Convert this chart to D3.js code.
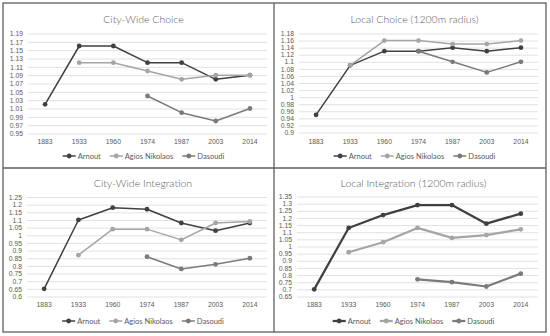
<!DOCTYPE html>
<html>
<head>
<meta charset="utf-8">
<script src="https://cdn.jsdelivr.net/npm/d3@7"></script>
<style>
  body { margin: 0; background: #fff; }
  svg { display: block; font-family: Lato, "Liberation Sans", sans-serif; }
</style>
</head>
<body>
<svg id="chart" width="550" height="336"></svg>
<script>
const years = ["1883", "1933", "1960", "1974", "1987", "2003", "2014"];
const seriesNames = ["Arnout", "Agios Nikolaos", "Dasoudi"];
const seriesColors = ["#404040", "#a5a5a5", "#7a7a7a"];

// City-Wide Choice
const cwChoiceArnout = [1.02, 1.16, 1.16, 1.12, 1.12, 1.08, 1.09];
const cwChoiceAgios = [null, 1.12, 1.12, 1.10, 1.08, 1.09, 1.09];
const cwChoiceDasoudi = [null, null, null, 1.04, 1.00, 0.98, 1.01];
const cwChoiceTicks = [0.95, 0.97, 0.99, 1.01, 1.03, 1.05, 1.07, 1.09, 1.11, 1.13, 1.15, 1.17, 1.19];

// Local Choice (1200m radius)
const lcChoiceArnout = [0.95, 1.09, 1.13, 1.13, 1.14, 1.13, 1.14];
const lcChoiceAgios = [null, 1.09, 1.16, 1.16, 1.15, 1.15, 1.16];
const lcChoiceDasoudi = [null, null, null, 1.13, 1.10, 1.07, 1.10];
const lcChoiceTicks = [0.9, 0.92, 0.94, 0.96, 0.98, 1, 1.02, 1.04, 1.06, 1.08, 1.1, 1.12, 1.14, 1.16, 1.18];

// City-Wide Integration
const cwIntArnout = [0.65, 1.10, 1.18, 1.17, 1.08, 1.03, 1.08];
const cwIntAgios = [null, 0.87, 1.04, 1.04, 0.97, 1.08, 1.09];
const cwIntDasoudi = [null, null, null, 0.86, 0.78, 0.81, 0.85];
const cwIntTicks = [0.6, 0.65, 0.7, 0.75, 0.8, 0.85, 0.9, 0.95, 1, 1.05, 1.1, 1.15, 1.2, 1.25];

// Local Integration (1200m radius)
const lcIntArnout = [0.70, 1.13, 1.22, 1.29, 1.29, 1.16, 1.23];
const lcIntAgios = [null, 0.96, 1.03, 1.13, 1.06, 1.08, 1.12];
const lcIntDasoudi = [null, null, null, 0.77, 0.75, 0.72, 0.81];
const lcIntTicks = [0.65, 0.7, 0.75, 0.8, 0.85, 0.9, 0.95, 1, 1.05, 1.1, 1.15, 1.2, 1.25, 1.3, 1.35];

const panels = [
  { title: "City-Wide Choice", series: [cwChoiceArnout, cwChoiceAgios, cwChoiceDasoudi], ticks: cwChoiceTicks,
    left: 28, right: 267, top: 33.5, bottom: 133.5, titleY: 19, xLabelY: 142, legendY: 156, lw: 1.5 },
  { title: "Local Choice (1200m radius)", series: [lcChoiceArnout, lcChoiceAgios, lcChoiceDasoudi], ticks: lcChoiceTicks,
    left: 299, right: 538, top: 33.5, bottom: 132.5, titleY: 19, xLabelY: 142, legendY: 156, lw: 1.5 },
  { title: "City-Wide Integration", series: [cwIntArnout, cwIntAgios, cwIntDasoudi], ticks: cwIntTicks,
    left: 27, right: 267, top: 197, bottom: 296.5, titleY: 183, xLabelY: 305, legendY: 321, lw: 1.5 },
  { title: "Local Integration (1200m radius)", series: [lcIntArnout, lcIntAgios, lcIntDasoudi], ticks: lcIntTicks,
    left: 297, right: 538, top: 196.5, bottom: 296.5, titleY: 183, xLabelY: 305, legendY: 321, lw: 2.25 }
];

const svg = d3.select("#chart");

// outer frame and dividers
svg.append("rect").attr("x", 3).attr("y", 3).attr("width", 543).attr("height", 329)
  .attr("fill", "none").attr("stroke", "#5f5f5f").attr("stroke-width", 1.3);
svg.append("line").attr("x1", 274).attr("x2", 274).attr("y1", 3).attr("y2", 332)
  .attr("stroke", "#5f5f5f").attr("stroke-width", 1.3);
svg.append("line").attr("x1", 3).attr("x2", 546).attr("y1", 168).attr("y2", 168)
  .attr("stroke", "#5f5f5f").attr("stroke-width", 1.3);

panels.forEach(p => {
  const g = svg.append("g");
  const x = d3.scaleBand().domain(years).range([p.left, p.right]);
  const y = d3.scaleLinear().domain([p.ticks[0], p.ticks[p.ticks.length - 1]]).range([p.bottom, p.top]);

  // title
  g.append("text").attr("x", (p.left + p.right) / 2 - 4).attr("y", p.titleY)
    .attr("text-anchor", "middle").attr("dominant-baseline", "central")
    .attr("font-size", 10.5).attr("font-weight", 300).attr("fill", "#595959").text(p.title);

  // gridlines + y labels
  const yAxis = d3.axisLeft(y).tickValues(p.ticks).tickSize(-(p.right - p.left)).tickPadding(5)
    .tickFormat(d => String(+d.toFixed(2)));
  const ya = g.append("g").attr("transform", `translate(${p.left},0)`).call(yAxis);
  ya.select(".domain").remove();
  ya.selectAll(".tick line").attr("stroke", "#d9d9d9").attr("stroke-width", 0.8);
  ya.selectAll(".tick text").attr("fill", "#595959").attr("font-size", 6.8).attr("font-family", null);

  // x labels
  const xAxis = d3.axisBottom(x).tickSize(0).tickPadding(0);
  const xa = g.append("g").attr("transform", `translate(0,${p.xLabelY})`).call(xAxis);
  xa.select(".domain").remove();
  xa.selectAll(".tick text").attr("fill", "#595959").attr("font-size", 6.8)
    .attr("font-family", null).attr("dy", "0.32em");

  const cx = d => x(d) + x.bandwidth() / 2;

  // series lines
  p.series.forEach((vals, i) => {
    const pts = years.map((yr, k) => ({ yr, v: vals[k] })).filter(d => d.v != null);
    const line = d3.line().x(d => cx(d.yr)).y(d => y(d.v));
    g.append("path").attr("d", line(pts)).attr("fill", "none")
      .attr("stroke", seriesColors[i]).attr("stroke-width", p.lw).attr("stroke-linejoin", "round");
    g.selectAll(null).data(pts).enter().append("circle")
      .attr("cx", d => cx(d.yr)).attr("cy", d => y(d.v)).attr("r", 2.4)
      .attr("fill", seriesColors[i]);
  });

  // legend
  const lg = g.append("g");
  let off = 0;
  seriesNames.forEach((name, i) => {
    const item = lg.append("g").attr("transform", `translate(${off},0)`);
    item.append("line").attr("x1", 0).attr("x2", 13).attr("y1", 0).attr("y2", 0)
      .attr("stroke", seriesColors[i]).attr("stroke-width", p.lw);
    item.append("circle").attr("cx", 6.5).attr("cy", 0).attr("r", 2.4).attr("fill", seriesColors[i]);
    const t = item.append("text").attr("x", 15).attr("y", 0).attr("dominant-baseline", "central")
      .attr("font-size", 7.5).attr("fill", "#595959").text(name);
    off += 15 + t.node().getComputedTextLength() + 9;
  });
  off -= 9;
  lg.attr("transform", `translate(${(p.left + p.right) / 2 - off / 2 - 4},${p.legendY})`);
});
</script>
</body>
</html>
